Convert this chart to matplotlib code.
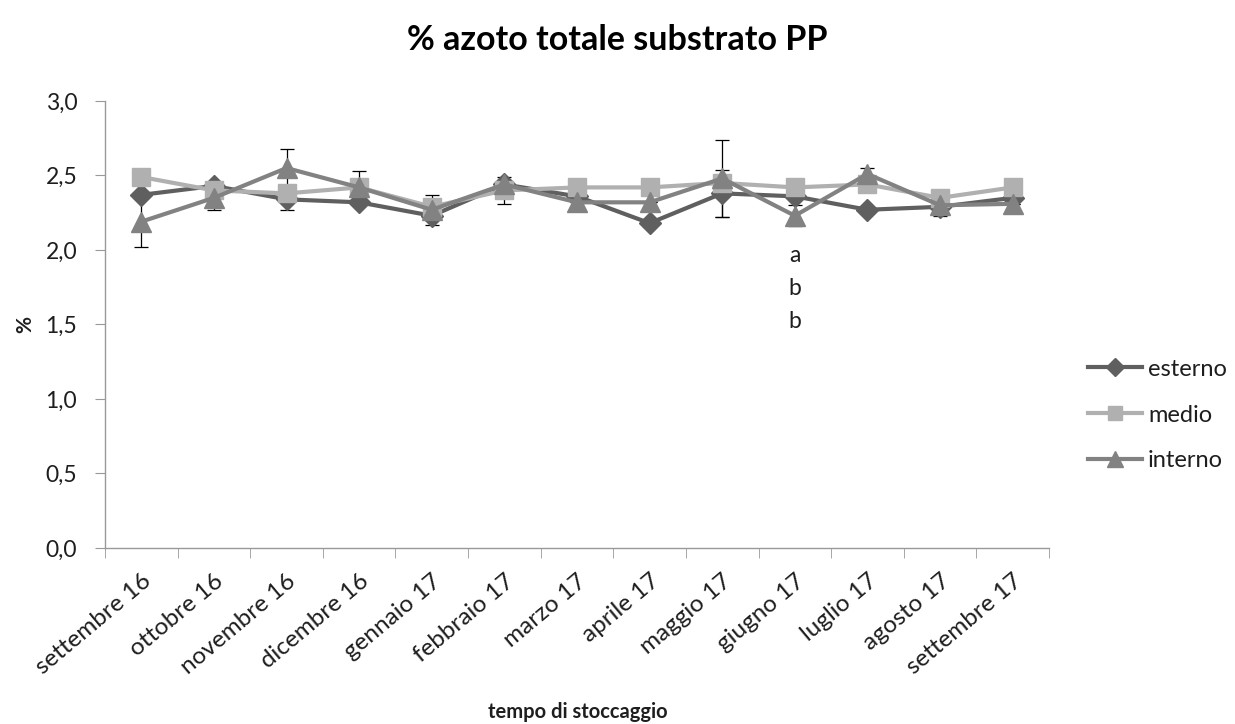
import numpy as np
import matplotlib.pyplot as plt

plt.rcParams['font.family'] = ['Lato', 'DejaVu Sans']

# mesi di campionamento
mesi = ['settembre 16', 'ottobre 16', 'novembre 16', 'dicembre 16', 'gennaio 17',
        'febbraio 17', 'marzo 17', 'aprile 17', 'maggio 17', 'giugno 17',
        'luglio 17', 'agosto 17', 'settembre 17']

# % azoto totale per posizione nel cumulo
esterno = [2.37, 2.43, 2.34, 2.32, 2.23, 2.44, 2.36, 2.18, 2.38, 2.36, 2.27, 2.29, 2.35]
medio = [2.49, 2.40, 2.38, 2.42, 2.29, 2.40, 2.42, 2.42, 2.45, 2.42, 2.44, 2.35, 2.42]
interno = [2.19, 2.35, 2.55, 2.42, 2.27, 2.44, 2.32, 2.32, 2.48, 2.23, 2.51, 2.30, 2.31]

# deviazioni standard
esterno_err = [0.00, 0.00, 0.07, 0.00, 0.00, 0.00, 0.00, 0.00, 0.16, 0.00, 0.00, 0.00, 0.00]
medio_err = [0.00, 0.00, 0.00, 0.00, 0.00, 0.09, 0.00, 0.00, 0.00, 0.00, 0.00, 0.00, 0.00]
interno_err = [0.17, 0.08, 0.13, 0.11, 0.10, 0.00, 0.00, 0.00, 0.26, 0.07, 0.04, 0.07, 0.00]

# lettere di significatività (giugno 17)
lettere = ['a', 'b', 'b']
lettere_y = [1.96, 1.74, 1.52]
lettere_mese = 9

x = np.arange(len(mesi))
testo = '#1e1e1e'

fig = plt.figure(figsize=(12.35, 7.24), dpi=100)
ax = fig.add_axes([0.085, 0.2431, 0.7644, 0.6174])

serie = [
    ('esterno', esterno, esterno_err, '#5f5f5f', 'D', 11),
    ('medio', medio, medio_err, '#b0b0b0', 's', 12.5),
    ('interno', interno, interno_err, '#828282', '^', 15),
]

for i, (nome, y, err, col, mk, ms) in enumerate(serie):
    ax.errorbar(x, y, yerr=err, fmt='none', ecolor='black', elinewidth=0.9,
                capsize=5, capthick=0.9, zorder=1)
    ax.plot(x, y, color=col, lw=3, marker=mk, ms=ms, mec=col, mfc=col,
            label=nome, zorder=3 + i)

for lt, ly in zip(lettere, lettere_y):
    ax.text(lettere_mese, ly, lt, ha='center', va='center', fontsize=16.5, color=testo)

ax.set_xlim(-0.5, len(mesi) - 0.5)
ax.set_ylim(0, 3.0)
ax.set_yticks(np.arange(0, 3.01, 0.5))
ax.set_yticklabels([f'{v:.1f}'.replace('.', ',') for v in np.arange(0, 3.01, 0.5)])

ax.set_xticks(x)
ax.set_xticklabels(mesi, rotation=40, ha='right', rotation_mode='anchor')
ax.set_xticks(np.arange(-0.5, len(mesi)), minor=True)
ax.tick_params(axis='x', which='major', length=0, pad=16, labelsize=17.5, colors=testo)
ax.tick_params(axis='x', which='minor', length=7, color='#999999', direction='out')
ax.tick_params(axis='y', length=7, color='#999999', labelsize=16.5, colors=testo, pad=13)
ax.tick_params(axis='y', color='#999999')

for s in ['top', 'right']:
    ax.spines[s].set_visible(False)
for s in ['left', 'bottom']:
    ax.spines[s].set_color('#999999')
    ax.spines[s].set_linewidth(1.0)

ax.set_ylabel('%', fontsize=15, fontweight='bold', labelpad=7, color=testo)
fig.text(0.468, 0.0166, 'tempo di stoccaggio', ha='center', va='center',
         fontsize=14.5, fontweight='bold', color=testo)
fig.text(0.5, 0.945, '% azoto totale substrato PP', ha='center', va='center',
         fontsize=24.5, fontweight='bold', color='black')

ax.legend(loc='center left', bbox_to_anchor=(1.0413, 0.2975), frameon=False,
          fontsize=17, handlelength=2.29, handletextpad=0.25, labelspacing=1.05,
          borderpad=0, borderaxespad=0, markerscale=0.8, labelcolor=testo)

fig.savefig('out.png', dpi=100)
